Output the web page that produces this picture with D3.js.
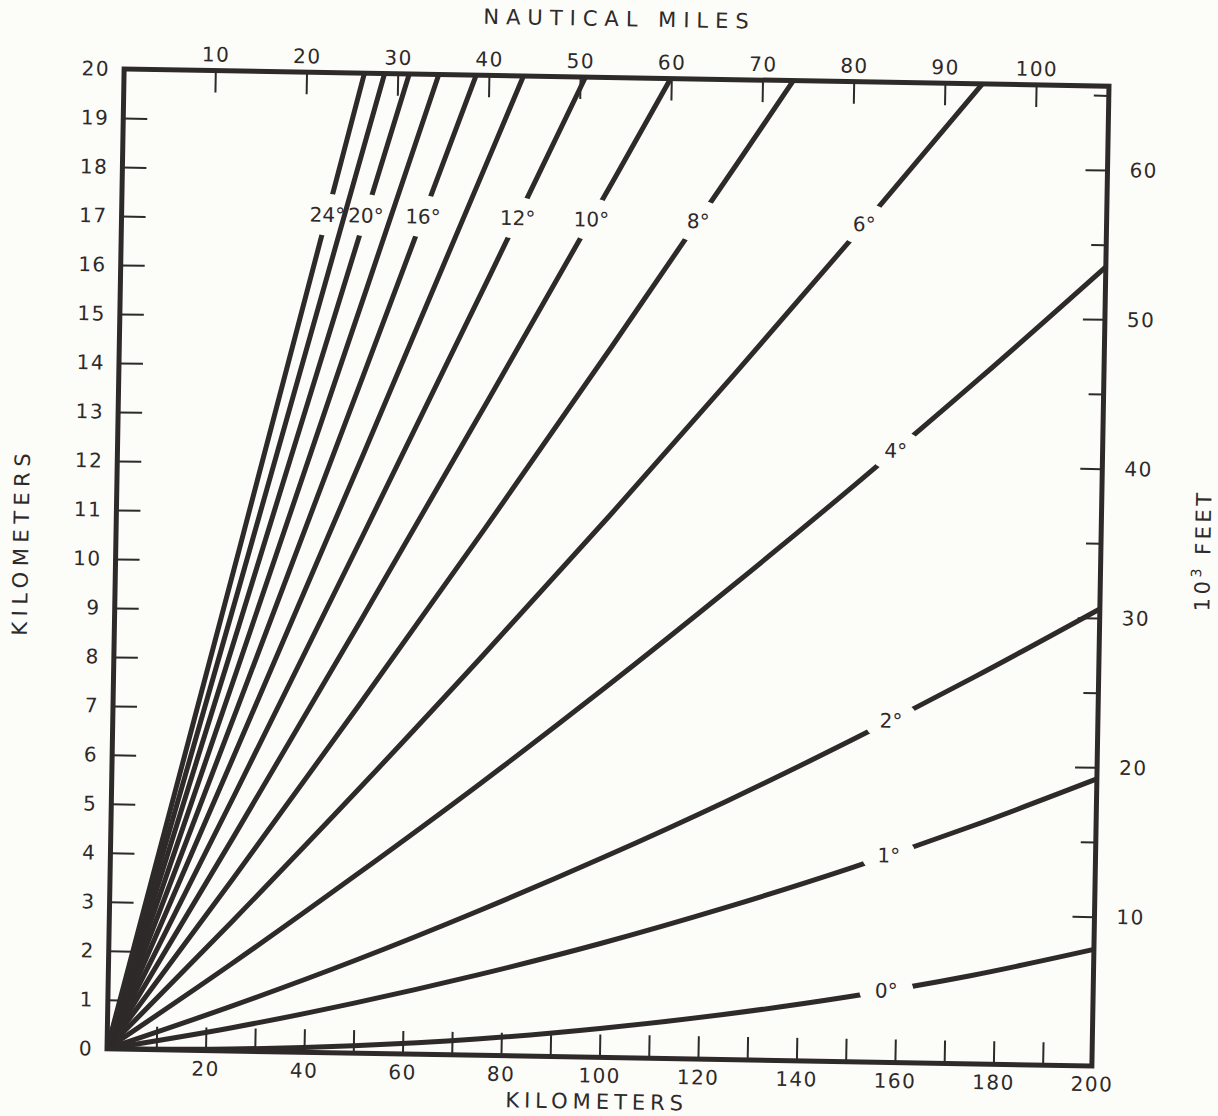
<!DOCTYPE html>
<html>
<head>
<meta charset="utf-8">
<script src="https://cdn.jsdelivr.net/npm/d3@7/dist/d3.min.js"></script>
<style>
body{margin:0;background:#fcfcf9}
svg text{font-family:"DejaVu Sans",sans-serif;fill:#2e2a2a}
</style>
</head>
<body>
<svg id="chart" width="1218" height="1116"></svg>
<script>
// beam height (km) against range (km), one list per elevation angle
var beam0=[[0,0],[25,0.04],[50,0.15],[75,0.33],[100,0.59],[125,0.92],[150,1.32],[175,1.80],[200,2.38]]
var beam1=[[0,0],[25,0.47],[50,1.02],[75,1.64],[100,2.33],[125,3.10],[150,3.94],[175,4.86],[200,5.86]]
var beam2=[[0,0],[25,0.91],[50,1.89],[75,2.95],[100,4.08],[125,5.28],[150,6.56],[175,7.91],[200,9.33]]
var beam4=[[0,0],[25,1.78],[50,3.64],[75,5.56],[100,7.56],[125,9.64],[150,11.79],[175,14.01],[200,16.31]]
var beam6=[[0,0],[25,2.65],[50,5.37],[75,8.17],[100,11.04],[125,13.99],[150,17.00],[174.3,20]]
var beam8=[[0,0],[25,3.52],[50,7.11],[75,10.77],[100,14.51],[125,18.32],[135.9,20]]
var beam10=[[0,0],[25,4.38],[50,8.83],[75,13.36],[100,17.95],[111,20]]
var beam12=[[0,0],[25,5.23],[50,10.54],[75,15.92],[93.7,20]]
var beam14=[[0,0],[25,6.09],[50,12.24],[75,18.47],[81.1,20]]
var beam16=[[0,0],[25,6.93],[50,13.93],[71.5,20]]
var beam18=[[0,0],[25,7.76],[50,15.60],[63.9,20]]
var beam20=[[0,0],[25,8.59],[50,17.25],[57.9,20]]
var beam22=[[0,0],[25,9.40],[52.9,20]]
var beam24=[[0,0],[25,10.21],[48.8,20]]

var beams=[
  {deg:0,pts:beam0},{deg:1,pts:beam1},{deg:2,pts:beam2},{deg:4,pts:beam4},
  {deg:6,pts:beam6},{deg:8,pts:beam8},{deg:10,pts:beam10},{deg:12,pts:beam12},
  {deg:14,pts:beam14},{deg:16,pts:beam16},{deg:18,pts:beam18},{deg:20,pts:beam20},
  {deg:22,pts:beam22},{deg:24,pts:beam24}]

// where the angle labels sit (range km, height km)
var labelDeg=[24,20,16,12,10,8,6,4,2,1,0]
var labelAt=[[41.8,17.1],[49.6,17.1],[61.2,17.1],[80.4,17.1],[95.4,17.1],[117.1,17.1],[150.8,17.1],
             [158,12.49],[158,6.98],[158,4.23],[158,1.47]]

// tick values
var kmTicks=[10,20,30,40,50,60,70,80,90,100,110,120,130,140,150,160,170,180,190,200]
var kmLabels=[20,40,60,80,100,120,140,160,180,200]
var heightTicks=[0,1,2,3,4,5,6,7,8,9,10,11,12,13,14,15,16,17,18,19,20]
var nmTicks=[10,20,30,40,50,60,70,80,90,100]
var kftMajor=[10,20,30,40,50,60]
var kftMinor=[15,25,35,45,55,65]

var ink="#2e2a2a"
var padL=115.5, padT=77.5, W=985, H=980

var svg=d3.select("#chart")
var g=svg.append("g").attr("transform","rotate(1,608,567.5)")
var plot=g.append("g").attr("transform","translate("+padL+","+padT+")")

var x=d3.scaleLinear().domain([0,200]).range([0,W])
var y=d3.scaleLinear().domain([0,20]).range([H,0])
var xnm=d3.scaleLinear().domain([0,200/1.852]).range([0,W])
var yft=d3.scaleLinear().domain([0,20/0.3048]).range([H,0])

function styleAxis(sel){
  sel.select(".domain").remove()
  sel.selectAll(".tick line").attr("stroke",ink).attr("stroke-width",2)
  sel.selectAll(".tick text").attr("font-size",20).attr("fill",ink).attr("letter-spacing",1.5)
      .style("font-family","DejaVu Sans, sans-serif")
}

// bottom km axis, ticks inward
plot.append("g").attr("transform","translate(0,"+H+")")
  .call(d3.axisBottom(x).tickValues(kmTicks).tickSize(-23).tickPadding(11)
    .tickFormat(function(d){ return kmLabels.indexOf(d)>=0 ? d : "" }))
  .call(styleAxis)

// left km axis
plot.append("g")
  .call(d3.axisLeft(y).tickValues(heightTicks).tickSize(-24).tickPadding(14))
  .call(styleAxis)

// top nautical miles
plot.append("g")
  .call(d3.axisTop(xnm).tickValues(nmTicks).tickSize(-22).tickPadding(9))
  .call(styleAxis)

// right 10^3 feet
plot.append("g").attr("transform","translate("+W+",0)")
  .call(d3.axisRight(yft).tickValues(kftMajor).tickSize(-22).tickPadding(22))
  .call(styleAxis)
plot.append("g").attr("transform","translate("+W+",0)")
  .call(d3.axisRight(yft).tickValues(kftMinor).tickSize(-15).tickFormat(""))
  .call(styleAxis)

// masks that cut a gap where each label sits
var defs=svg.append("defs")
defs.append("clipPath").attr("id","plotclip")
  .append("rect").attr("x",0).attr("y",-3).attr("width",W).attr("height",H+3)

labelDeg.forEach(function(deg,i){
  var m=defs.append("mask").attr("id","gap"+deg)
    .attr("maskUnits","userSpaceOnUse").attr("x",-100).attr("y",-100)
    .attr("width",W+200).attr("height",H+200)
  m.append("rect").attr("x",-100).attr("y",-100).attr("width",W+200).attr("height",H+200).attr("fill","white")
  m.append("ellipse").attr("cx",x(labelAt[i][0])).attr("cy",y(labelAt[i][1]))
    .attr("rx",27).attr("ry",21).attr("fill","black")
})

var line=d3.line().x(function(d){return x(d[0])}).y(function(d){return y(d[1])})
  .curve(d3.curveMonotoneX)

var lines=plot.append("g").attr("clip-path","url(#plotclip)")
lines.selectAll("path.beam").data(beams).enter().append("path")
  .attr("class","beam")
  .attr("d",function(d){return line(d.pts)})
  .attr("fill","none").attr("stroke",ink).attr("stroke-width",5)
  .attr("mask",function(d){ return labelDeg.indexOf(d.deg)>=0 ? "url(#gap"+d.deg+")" : null })

plot.selectAll("text.deg").data(labelDeg).enter().append("text")
  .attr("class","deg")
  .attr("x",function(d,i){return x(labelAt[i][0])})
  .attr("y",function(d,i){return y(labelAt[i][1])})
  .attr("dy","0.36em").attr("text-anchor","middle").attr("font-size",20)
  .text(function(d){return d+"\u00b0"})

// frame
plot.append("rect").attr("width",W).attr("height",H)
  .attr("fill","none").attr("stroke",ink).attr("stroke-width",5)

// axis titles
g.append("text").attr("x",610).attr("y",26).attr("text-anchor","middle")
  .attr("font-size",21).attr("letter-spacing",7).text("NAUTICAL  MILES")
g.append("text").attr("x",606).attr("y",1109).attr("text-anchor","middle")
  .attr("font-size",21).attr("letter-spacing",5).text("KILOMETERS")
g.append("text").attr("transform","translate(28,552)rotate(-90)").attr("text-anchor","middle")
  .attr("font-size",21).attr("letter-spacing",5.5).text("KILOMETERS")
var ft=g.append("text").attr("transform","translate(1210,540)rotate(-90)").attr("text-anchor","middle")
  .attr("font-size",21).attr("letter-spacing",3.5)
ft.append("tspan").text("10")
ft.append("tspan").attr("dy",-9).attr("font-size",14).text("3")
ft.append("tspan").attr("dy",9).text("  FEET")
</script>
</body>
</html>
